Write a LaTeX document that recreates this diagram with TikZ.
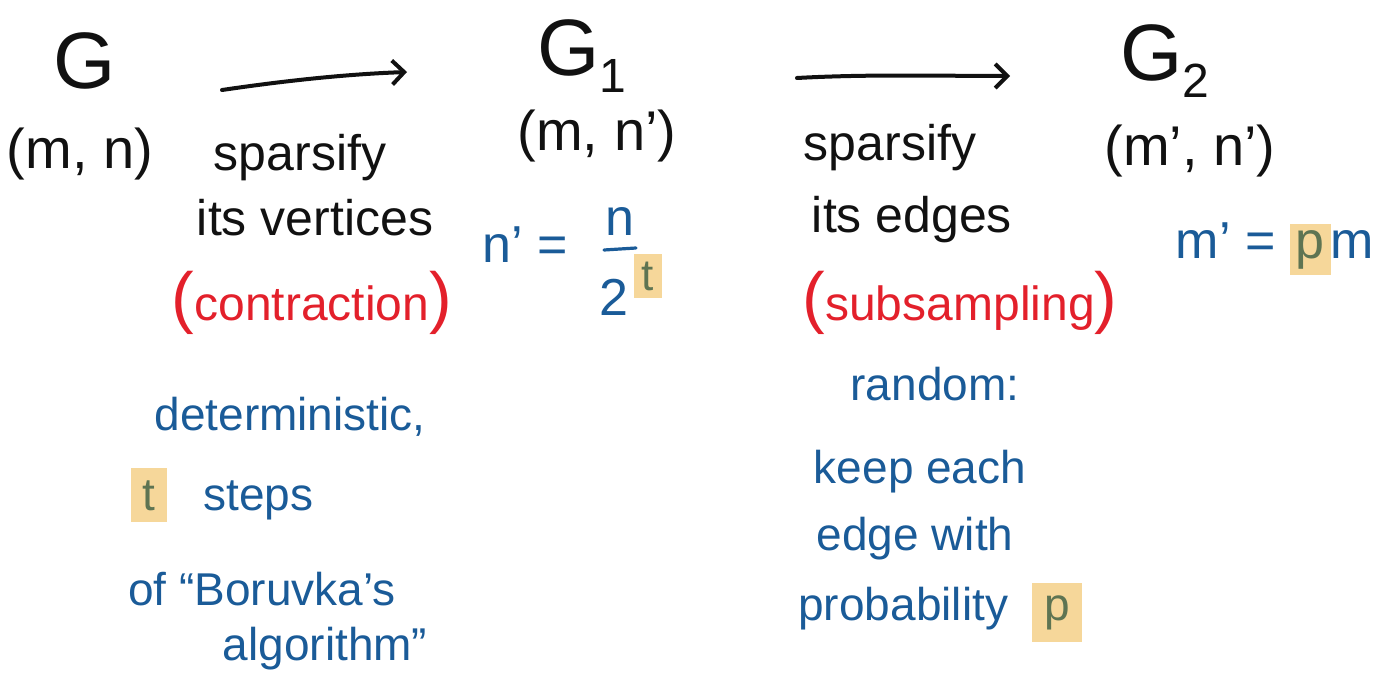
\documentclass[tikz,border=0pt]{standalone}
\usepackage{fontspec}
\setmainfont{Liberation Sans}
\usetikzlibrary{arrows.meta}
\definecolor{inkblack}{HTML}{111111}
\definecolor{inkred}{HTML}{E3202B}
\definecolor{inkblue}{HTML}{1A5B98}
\definecolor{hlfill}{HTML}{F6D79A}
\definecolor{hlink}{HTML}{5E7452}
\newcommand{\fsz}[1]{\fontsize{#1}{#1}\selectfont}
\newcommand{\hlt}[2][2pt]{{\setlength{\fboxsep}{#1}\colorbox{hlfill}{\textcolor{hlink}{#2}}}}
\newcommand{\bigpar}[1]{{\fsz{34}#1}}
\begin{document}
\begin{tikzpicture}[x=0.5pt,y=-0.5pt,
  every node/.style={inner sep=0pt, anchor=base},
  gname/.style={font=\fsz{40}, text=inkblack},
  pairlbl/.style={font=\fsz{28}, text=inkblack},
  oplbl/.style={font=\fsz{25}, text=inkblack},
  redlbl/.style={font=\fsz{24}, text=inkred},
  note/.style={font=\fsz{23}, text=inkblue},
  arr/.style={line width=2pt, draw=inkblack, line cap=round,
    -{Straight Barb[length=6pt,width=12pt,line width=2pt]}}]
\useasboundingbox (0,0) rectangle (1376,680);
% graphs
\node[gname] (g0) at (85,88) {G};
\node[pairlbl] (p0) at (80,168) {(m, n)};
\node[gname] (g1) at (582,75) {G\raisebox{-0.22em}{\fsz{24}1}};
\node[pairlbl] (p1) at (597,150) {(m, n’)};
\node[gname] (g2) at (1165,80) {G\raisebox{-0.22em}{\fsz{24}2}};
\node[pairlbl] (p2) at (1190,165) {(m’, n’)};
% arrows
\coordinate (a1s) at (222,90);
\coordinate (a1e) at (407,72);
\coordinate (a2s) at (797,78);
\coordinate (a2e) at (1010,76);
\draw[arr] (a1s) .. controls (290,80) and (350,74) .. (a1e);
\draw[arr] (a2s) .. controls (870,74) and (940,76) .. (a2e);
% first step
\node[oplbl] (s1a) at (300,170) {sparsify};
\node[oplbl] (s1b) at (315,235) {its vertices};
\node[redlbl] (s1c) at (312,320) {\bigpar{(}contraction\bigpar{)}};
\node[note] (d1) at (290,430) {deterministic,};
\node[note] (d2) at (222,510) {\hlt[6pt]{t}\hspace{18pt}steps};
\node[note] (d3) at (262,605) {of “Boruvka’s};
\node[note] (d4) at (325,660) {algorithm”};
% n' formula
\node[note, font=\fsz{26}] (e1) at (525,262) {n’ =};
\node[note, font=\fsz{26}] (e2) at (620,235) {n};
\draw[inkblue, line width=1.6pt, line cap=round] (604,250) -- (636,248);
\node[note, font=\fsz{26}] (e3) at (614,315) {2};
\node[note, font=\fsz{22}] (e4) at (648,290) {\hlt[4pt]{t}};
% second step
\node[oplbl] (s2a) at (890,160) {sparsify};
\node[oplbl] (s2b) at (912,232) {its edges};
\node[redlbl] (s2c) at (960,320) {\bigpar{(}subsampling\bigpar{)}};
\node[note] (r1) at (935,400) {random:};
\node[note] (r2) at (920,483) {keep each};
\node[note] (r3) at (915,550) {edge with};
\node[note] (r4) at (940,620) {probability\hspace{12pt}\hlt[6pt]{p}};
% m' formula
\node[note, font=\fsz{26}] (f1) at (1275,258) {m’ = \hlt[3pt]{p}m};
\end{tikzpicture}
\end{document}
